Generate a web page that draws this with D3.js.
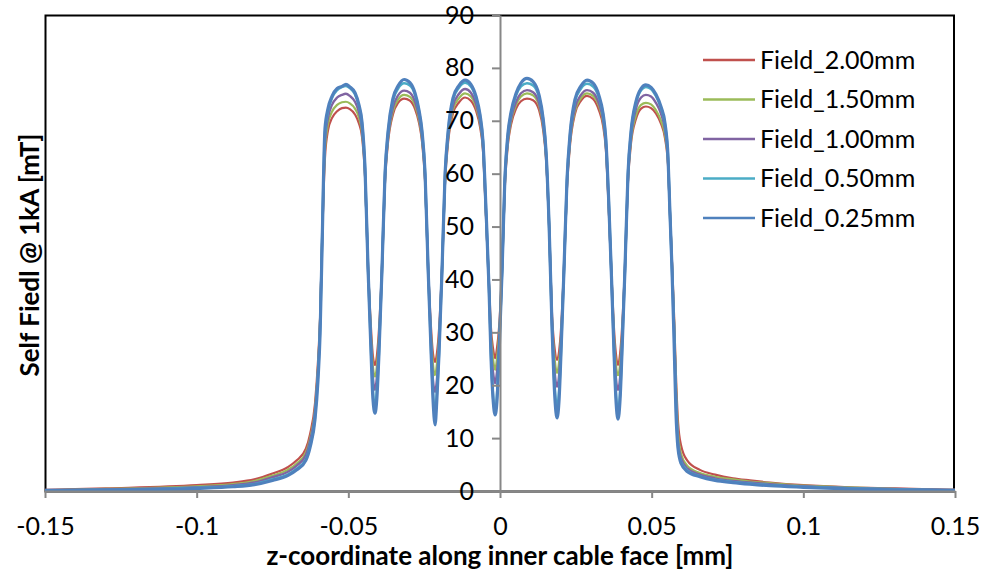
<!DOCTYPE html>
<html>
<head>
<meta charset="utf-8">
<script src="https://cdn.jsdelivr.net/npm/d3@7"></script>
<style>
  html, body { margin: 0; padding: 0; background: #fff; }
  svg { display: block; }
  text { font-family: Lato, "Open Sans", sans-serif; fill: #000; }
</style>
</head>
<body>
<svg id="chart" width="982" height="571"></svg>
<script>
// z-coordinate along the inner cable face [mm]
const zCoord = [
  -0.15, -0.13, -0.1, -0.088, -0.081, -0.075, -0.070, -0.067, -0.064, -0.0626,
  -0.0610, -0.0600, -0.0593, -0.0587, -0.0577, -0.0567, -0.0554, -0.0537, -0.0521, -0.0508,
  -0.0495, -0.0478, -0.0465, -0.0455, -0.0445, -0.0435, -0.0425, -0.0419, -0.0412, -0.0406,
  -0.0399, -0.0389, -0.0379, -0.0369, -0.0353, -0.0336, -0.0316, -0.0297, -0.0280, -0.0267,
  -0.0257, -0.0247, -0.0237, -0.0227, -0.0221, -0.0214, -0.0208, -0.0201, -0.0191, -0.0181,
  -0.0171, -0.0155, -0.0135, -0.0115, -0.0096, -0.0079, -0.0066, -0.0056, -0.0046, -0.0036,
  -0.0030, -0.0023, -0.0016, -0.0010, -0.0003, 0.0007, 0.0016, 0.0026, 0.0036, 0.0053,
  0.0069, 0.0089, 0.0109, 0.0129, 0.0142, 0.0152, 0.0162, 0.0171, 0.0181, 0.0188,
  0.0195, 0.0201, 0.0211, 0.0221, 0.0231, 0.0247, 0.0267, 0.0287, 0.0307, 0.0326,
  0.0340, 0.0349, 0.0359, 0.0369, 0.0376, 0.0382, 0.0389, 0.0396, 0.0402, 0.0412,
  0.0422, 0.0432, 0.0448, 0.0465, 0.0481, 0.0498, 0.0514, 0.0531, 0.0544, 0.0554,
  0.0560, 0.0567, 0.0574, 0.0580, 0.0587, 0.0597, 0.0617, 0.0659, 0.0709, 0.0768,
  0.0824, 0.0890, 0.1, 0.115, 0.13, 0.15
];

// Self field at 1 kA [mT] for each mesh size
const field200 = [
  0.2, 0.5, 1.1, 1.6, 2.2, 3.3, 4.5, 5.8, 8.0, 10.8,
  16.5, 24.5, 33, 46, 63, 68.2, 70.5, 71.8, 72.4, 72.5,
  72.2, 71.2, 69.5, 67, 59.5, 42.5, 30.5, 25.5, 23.8, 25.5,
  30.5, 42.5, 58.5, 66, 71.2, 73.4, 74.2, 73.8, 72.2, 69.6,
  66, 58.5, 42.5, 30.5, 26, 24.4, 26, 30.5, 42.5, 58.5,
  66, 71.4, 73.5, 74.4, 73.8, 71.9, 68.9, 64.3, 51.5, 39,
  31, 27, 25.1, 27, 31, 42.5, 57.5, 65.5, 69.2, 72.3,
  73.7, 74.2, 73.9, 72.0, 68.4, 62.5, 50, 34, 26.5, 24.8,
  26.5, 30.5, 42.5, 57.5, 65.5, 71.3, 73.8, 74.7, 74.1, 72.0,
  69.0, 64.6, 52.5, 39, 30.5, 26, 23.8, 26, 30.5, 42.5,
  58.5, 65.8, 70.3, 72.3, 72.7, 72.4, 71.4, 69.4, 66.7, 61.5,
  53, 43.5, 33, 22, 13, 8.6, 5.8, 4.0, 3.1, 2.4,
  2.0, 1.6, 1.1, 0.7, 0.5, 0.2
];
const field150 = [
  0.1, 0.4, 0.9, 1.3, 1.9, 2.9, 4.0, 5.2, 7.3, 10,
  15.5, 23.5, 32.5, 46, 64.5, 69.4, 71.7, 73.0, 73.5, 73.6,
  73.3, 72.3, 70.6, 67.8, 60, 42, 29, 23.5, 21.6, 23.5,
  29, 42, 59, 66.5, 71.8, 74.0, 74.9, 74.5, 72.9, 70.2,
  66.5, 59, 42, 29, 24, 21.9, 24, 29, 42, 59,
  66.5, 72.1, 74.3, 75.2, 74.6, 72.6, 69.5, 64.8, 52, 38.5,
  29.5, 25, 22.9, 25, 29.5, 42, 58, 66, 69.8, 73.0,
  74.6, 75.2, 74.8, 72.8, 69.0, 63, 50, 33, 24.5, 22.3,
  24.5, 29, 42, 58, 66, 71.8, 74.3, 75.2, 74.7, 72.8,
  69.7, 65.2, 53, 38.5, 29, 24, 21.9, 24, 29, 42,
  59, 66.3, 71, 73.0, 73.4, 73.1, 72.0, 70.0, 67.3, 62,
  53, 43, 32, 20.5, 11, 7, 4.8, 3.4, 2.7, 2.2,
  1.8, 1.5, 1.0, 0.7, 0.4, 0.2
];
const field100 = [
  0.1, 0.3, 0.7, 1.1, 1.6, 2.6, 3.6, 4.8, 6.8, 9.5,
  15, 23, 32, 46, 66, 70.6, 73.0, 74.4, 74.9, 75.1,
  74.7, 73.6, 71.6, 68.6, 60.5, 42, 27.5, 21.5, 19.1, 21.5,
  27.5, 42, 59.5, 67, 72.5, 74.8, 75.7, 75.3, 73.6, 70.8,
  67, 59.5, 42, 27.5, 21, 18.7, 21, 27.5, 42, 59.5,
  67, 72.8, 75.1, 76.0, 75.3, 73.2, 70.0, 65.3, 52.5, 38,
  27.5, 22.5, 20.4, 22.5, 27.5, 42, 58.5, 66.5, 70.3, 73.6,
  75.2, 75.8, 75.4, 73.3, 69.5, 63.5, 50, 32.5, 22, 19.7,
  22, 27.5, 42, 58.5, 66.5, 72.4, 74.9, 75.8, 75.3, 73.3,
  70.2, 65.6, 53.5, 38, 27.5, 21.5, 19.1, 21.5, 27.5, 42,
  59.5, 67, 72.2, 74.4, 74.9, 74.6, 73.4, 71.3, 68.3, 62.5,
  53, 42.5, 31, 19, 9.5, 6.2, 4.3, 3.1, 2.4, 1.9,
  1.6, 1.3, 0.9, 0.6, 0.4, 0.2
];
const field050 = [
  0.1, 0.2, 0.6, 0.9, 1.3, 2.2, 3.1, 4.2, 6.0, 8.6,
  14, 22, 31, 46, 67.5, 71.8, 74.3, 75.8, 76.4, 76.6,
  76.2, 75.0, 72.8, 69.5, 61, 42, 26.5, 19, 15.7, 19,
  26.5, 42, 60, 67.8, 73.8, 76.1, 77.1, 76.7, 74.9, 71.8,
  67.8, 60, 42, 26.5, 18.5, 15.3, 18.5, 26.5, 42, 60,
  67.8, 74.0, 76.3, 77.2, 76.5, 74.3, 71.0, 66, 53, 38,
  26.5, 18, 15.0, 18, 26.5, 42, 59, 67.2, 71.2, 74.8,
  76.5, 77.1, 76.7, 74.4, 70.3, 64, 50, 32, 19, 15.9,
  19, 26.5, 42, 59, 67.3, 73.6, 76.1, 77.0, 76.5, 74.4,
  71.1, 66.3, 54, 38, 26.5, 18.5, 15.3, 18.5, 26.5, 42,
  60, 67.8, 73.3, 75.8, 76.4, 76.0, 74.7, 72.4, 69.2, 63,
  53, 42, 30, 17.5, 8.5, 5.5, 3.9, 2.8, 2.1, 1.7,
  1.4, 1.1, 0.8, 0.5, 0.3, 0.1
];
const field025 = [
  0.1, 0.2, 0.5, 0.8, 1.2, 2.0, 2.9, 4.0, 5.8, 8.3,
  13.5, 21, 30, 45, 68.5, 72.3, 74.6, 76.1, 76.5, 76.9,
  76.4, 75.3, 73.0, 69.8, 61, 42, 26, 17.5, 14.7, 17.5,
  26, 42, 60, 68, 74.2, 76.6, 77.8, 77.2, 75.2, 72.0,
  68, 60, 42, 26, 17.5, 12.5, 17.5, 26, 42, 60,
  68, 74.3, 76.7, 77.7, 76.9, 74.6, 71.2, 66, 53, 38,
  26, 17.5, 14.4, 17, 26, 42, 59, 67.5, 71.5, 75.2,
  77.1, 78.0, 77.4, 74.8, 70.5, 64, 50, 32, 17.5, 13.8,
  17.5, 26, 42, 59, 67.5, 74, 76.6, 77.7, 77.1, 74.8,
  71.3, 66.5, 54, 38, 26, 17.5, 13.6, 17.5, 26, 42,
  60, 68, 73.6, 76.1, 76.8, 76.3, 75.0, 72.6, 69.5, 63,
  53, 42, 28, 15, 8, 5.2, 3.7, 2.7, 2.0, 1.6,
  1.3, 1.0, 0.7, 0.4, 0.2, 0.1
];

const seriesNames = ["Field_2.00mm", "Field_1.50mm", "Field_1.00mm", "Field_0.50mm", "Field_0.25mm"];
const seriesValues = [field200, field150, field100, field050, field025];
const seriesColors = ["#C0504D", "#9BBB59", "#8064A2", "#4BACC6", "#4F81BD"];
const seriesWidths = [2.2, 2.2, 2.4, 2.6, 3.2];

const xTickValues = [-0.15, -0.1, -0.05, 0, 0.05, 0.1, 0.15];
const xTickLabels = ["-0.15", "-0.1", "-0.05", "0", "0.05", "0.1", "0.15"];
const yTickValues = [0, 10, 20, 30, 40, 50, 60, 70, 80, 90];

const xTitle = "z-coordinate along inner cable face [mm]";
const yTitle = "Self Fiedl @ 1kA [mT]";

const svg = d3.select("#chart");
const plot = { left: 45, right: 955, top: 15, bottom: 491 };

const x = d3.scaleLinear().domain([-0.15, 0.15]).range([plot.left, plot.right]);
const y = d3.scaleLinear().domain([0, 90]).range([plot.bottom, plot.top]);

// plot-area frame
svg.append("rect")
  .attr("x", plot.left + 0.5).attr("y", plot.top + 0.5)
  .attr("width", plot.right - plot.left - 1.5).attr("height", plot.bottom - plot.top)
  .attr("fill", "none").attr("stroke", "#000").attr("stroke-width", 2);

// field curves, coarsest mesh first so the finest sits on top
const line = d3.line()
  .curve(d3.curveMonotoneX)
  .x(d => x(d[0]))
  .y(d => y(d[1]));

seriesValues.forEach((vals, i) => {
  svg.append("path")
    .datum(zCoord.map((z, k) => [z, vals[k]]))
    .attr("fill", "none")
    .attr("stroke", seriesColors[i])
    .attr("stroke-width", seriesWidths[i])
    .attr("stroke-linejoin", "round")
    .attr("d", line);
});

// x axis along y = 0
const xAxis = d3.axisBottom(x)
  .tickValues(xTickValues)
  .tickFormat((d, i) => xTickLabels[i])
  .tickSizeInner(7).tickSizeOuter(0).tickPadding(19);
const gx = svg.append("g").attr("transform", `translate(0,${y(0)})`).call(xAxis);
gx.select(".domain").attr("stroke", "#878787").attr("stroke-width", 2);
gx.selectAll(".tick line").attr("stroke", "#878787").attr("stroke-width", 2);
gx.selectAll(".tick text").attr("font-size", 25).attr("fill", "#000")
  .attr("font-family", "Lato, 'Open Sans', sans-serif");

// y axis along z = 0
const yAxis = d3.axisLeft(y)
  .tickValues(yTickValues)
  .tickFormat(d3.format("d"))
  .tickSizeInner(8).tickSizeOuter(0).tickPadding(18);
const gy = svg.append("g").attr("transform", `translate(${x(0)},0)`).call(yAxis);
gy.select(".domain").attr("stroke", "#878787").attr("stroke-width", 2);
gy.selectAll(".tick line").attr("stroke", "#878787").attr("stroke-width", 2);
gy.selectAll(".tick text").attr("font-size", 25).attr("fill", "#000")
  .attr("font-family", "Lato, 'Open Sans', sans-serif");

// axis titles
svg.append("text")
  .attr("x", 500).attr("y", 565)
  .attr("text-anchor", "middle")
  .attr("font-size", 26).attr("font-weight", "bold")
  .text(xTitle);

svg.append("text")
  .attr("transform", "translate(39,255) rotate(-90)")
  .attr("text-anchor", "middle")
  .attr("font-size", 26).attr("font-weight", "bold")
  .text(yTitle);

// legend
const legend = svg.append("g");
seriesNames.forEach((name, i) => {
  const ly = 60 + i * 39.5;
  legend.append("line")
    .attr("x1", 703).attr("x2", 755).attr("y1", ly).attr("y2", ly)
    .attr("stroke", seriesColors[i]).attr("stroke-width", 2.5);
  legend.append("text")
    .attr("x", 760).attr("y", ly)
    .attr("dy", "0.35em")
    .attr("font-size", 25)
    .text(name);
});
</script>
</body>
</html>
